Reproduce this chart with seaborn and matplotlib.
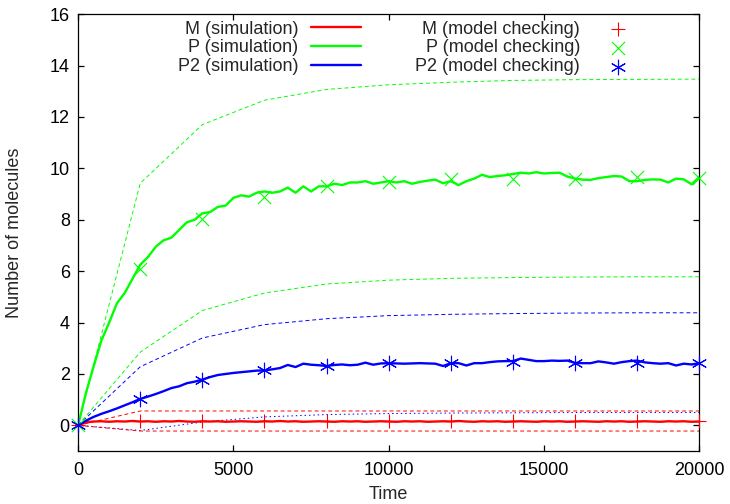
import numpy as np
import pandas as pd
import matplotlib
matplotlib.use("Agg")
import matplotlib.pyplot as plt
import seaborn as sns

# ============================================================
# DATA
# ============================================================

# simulation time axis (step 250)
sim_time = list(range(0, 20001, 250))

m_sim = [0.0, 0.12, 0.15, 0.16, 0.14, 0.16, 0.15, 0.17, 0.15, 0.16,
         0.14, 0.16, 0.15, 0.17, 0.15, 0.14, 0.16, 0.15, 0.16, 0.14,
         0.15, 0.16, 0.15, 0.14, 0.16, 0.15, 0.17, 0.15, 0.16, 0.14,
         0.15, 0.16, 0.15, 0.14, 0.16, 0.15, 0.16, 0.14, 0.15, 0.16,
         0.15, 0.14, 0.16, 0.15, 0.16, 0.14, 0.15, 0.16, 0.15, 0.17,
         0.15, 0.14, 0.16, 0.15, 0.16, 0.14, 0.15, 0.16, 0.15, 0.14,
         0.16, 0.15, 0.16, 0.14, 0.15, 0.16, 0.15, 0.14, 0.16, 0.15,
         0.16, 0.14, 0.15, 0.16, 0.15, 0.14, 0.16, 0.15, 0.16, 0.14,
         0.15]

p_sim = [0.0, 1.25, 2.3, 3.3, 4.0, 4.75, 5.15, 5.7, 6.25, 6.55,
         6.95, 7.2, 7.3, 7.6, 7.9, 8.0, 8.25, 8.3, 8.5, 8.55,
         8.85, 8.95, 8.9, 9.05, 9.1, 9.05, 9.1, 9.25, 9.05, 9.3,
         9.1, 9.3, 9.3, 9.4, 9.35, 9.45, 9.45, 9.5, 9.4, 9.45,
         9.5, 9.45, 9.5, 9.4, 9.47, 9.52, 9.56, 9.42, 9.5, 9.35,
         9.5, 9.6, 9.75, 9.66, 9.7, 9.73, 9.78, 9.83, 9.8, 9.85,
         9.8, 9.82, 9.83, 9.68, 9.6, 9.56, 9.55, 9.62, 9.66, 9.7,
         9.68, 9.5, 9.5, 9.55, 9.57, 9.56, 9.45, 9.6, 9.57, 9.38,
         9.66]

p2_sim = [0.0, 0.18, 0.33, 0.45, 0.55, 0.66, 0.78, 0.9, 1.03, 1.12,
          1.22, 1.33, 1.45, 1.52, 1.64, 1.7, 1.78, 1.88, 1.96, 2.0,
          2.04, 2.07, 2.1, 2.13, 2.14, 2.18, 2.23, 2.35, 2.27, 2.4,
          2.36, 2.34, 2.31, 2.35, 2.37, 2.34, 2.36, 2.44, 2.36, 2.41,
          2.42, 2.41, 2.4, 2.41, 2.42, 2.41, 2.4, 2.31, 2.42, 2.42,
          2.33, 2.42, 2.42, 2.46, 2.49, 2.5, 2.5, 2.6, 2.55, 2.5,
          2.5, 2.52, 2.51, 2.52, 2.43, 2.42, 2.42, 2.49, 2.45, 2.4,
          2.46, 2.5, 2.52, 2.45, 2.42, 2.4, 2.42, 2.33, 2.4, 2.37,
          2.42]

# model checking time axis (step 2000)
mc_time = list(range(0, 20001, 2000))

m_mc = [0.0, 0.17, 0.17, 0.17, 0.17, 0.17, 0.17, 0.17, 0.17, 0.17, 0.17]
p_mc = [0.0, 6.1, 8.04, 8.88, 9.31, 9.45, 9.6, 9.6, 9.6, 9.66, 9.64]
p2_mc = [0.0, 1.04, 1.78, 2.14, 2.31, 2.43, 2.42, 2.45, 2.44, 2.44, 2.42]

# bounds from model checking
m_upper = [0.0, 0.56, 0.56, 0.56, 0.56, 0.56, 0.56, 0.56, 0.56, 0.56, 0.56]
m_lower = [0.0, -0.22, -0.22, -0.22, -0.22, -0.22, -0.22, -0.22, -0.22, -0.22, -0.22]
p_upper = [0.0, 9.42, 11.7, 12.65, 13.07, 13.25, 13.35, 13.42, 13.45, 13.46, 13.47]
p_lower = [0.0, 2.85, 4.47, 5.15, 5.5, 5.65, 5.72, 5.75, 5.77, 5.78, 5.78]
p2_upper = [0.0, 2.28, 3.4, 3.92, 4.15, 4.27, 4.32, 4.35, 4.37, 4.38, 4.38]
p2_lower = [0.0, -0.2, 0.13, 0.33, 0.42, 0.46, 0.48, 0.49, 0.5, 0.5, 0.5]

RED = "#ff0000"
GREEN = "#00ff00"
BLUE = "#0000ff"

# ============================================================
# STYLE
# ============================================================

sns.set_style("ticks")
plt.rcParams["font.family"] = ["Liberation Sans", "DejaVu Sans"]
plt.rcParams["font.size"] = 13
plt.rcParams["axes.linewidth"] = 0.9
plt.rcParams["xtick.direction"] = "in"
plt.rcParams["ytick.direction"] = "in"
plt.rcParams["xtick.major.size"] = 4.5
plt.rcParams["ytick.major.size"] = 4.5
plt.rcParams["xtick.color"] = "black"
plt.rcParams["ytick.color"] = "black"
plt.rcParams["axes.edgecolor"] = "black"

fig = plt.figure(figsize=(7.3, 5.04), dpi=100)
ax = fig.add_axes([0.107, 0.105, 0.851, 0.867])

# ============================================================
# CRTANJE
# ============================================================

sim = pd.DataFrame({"t": sim_time, "M": m_sim, "P": p_sim, "P2": p2_sim})
mc = pd.DataFrame({"t": mc_time, "M": m_mc, "P": p_mc, "P2": p2_mc,
                   "M_up": m_upper, "M_lo": m_lower,
                   "P_up": p_upper, "P_lo": p_lower,
                   "P2_up": p2_upper, "P2_lo": p2_lower})

# bounds (thin dashed)
for col, c, ls in [("P_up", GREEN, (4, 3)), ("P_lo", GREEN, (4, 3)),
                   ("P2_up", BLUE, (4, 3)), ("P2_lo", BLUE, (1.5, 3)),
                   ("M_up", RED, (4, 3)), ("M_lo", RED, (4, 3))]:
    sns.lineplot(data=mc, x="t", y=col, color=c, lw=0.7, ax=ax,
                 dashes=False, legend=False).lines[-1].set_dashes(ls)

# simulation lines
h_m = sns.lineplot(data=sim, x="t", y="M", color=RED, lw=1.7, ax=ax,
                   label="M (simulation)").lines[-1]
h_p = sns.lineplot(data=sim, x="t", y="P", color=GREEN, lw=1.7, ax=ax,
                   label="P (simulation)").lines[-1]
h_p2 = sns.lineplot(data=sim, x="t", y="P2", color=BLUE, lw=1.7, ax=ax,
                    label="P2 (simulation)").lines[-1]

# model checking points
asterisk = (6, 2, 0)
sc_m = sns.scatterplot(data=mc, x="t", y="M", marker="+", color=RED, s=110,
                       linewidth=0.8, ax=ax, label="M (model checking)",
                       clip_on=False, zorder=5).collections[-1]
sc_p = sns.scatterplot(data=mc, x="t", y="P", marker="x", color=GREEN, s=90,
                       linewidth=0.8, ax=ax, label="P (model checking)",
                       clip_on=False, zorder=5).collections[-1]
sc_p2 = sns.scatterplot(data=mc, x="t", y="P2", marker=asterisk, color=BLUE,
                        s=110, linewidth=0.8, ax=ax, label="P2 (model checking)",
                        clip_on=False, zorder=5).collections[-1]

ax.set_xlim(0, 20000)
ax.set_ylim(-1, 16)
ax.set_xticks([0, 5000, 10000, 15000, 20000])
ax.set_yticks(list(range(0, 17, 2)))
ax.tick_params(top=True, right=True, width=0.9)
ax.tick_params(axis="x", pad=8)
ax.tick_params(axis="y", pad=6)
ax.set_xlabel("Time", labelpad=5)
ax.set_ylabel("Number of molecules", labelpad=19)
for s in ax.spines.values():
    s.set_visible(True)

ax.legend([h_m, h_p, h_p2, sc_m, sc_p, sc_p2],
          ["M (simulation)", "P (simulation)", "P2 (simulation)",
           "M (model checking)", "P (model checking)", "P2 (model checking)"],
          ncol=2, markerfirst=False, frameon=False, loc="upper right",
          bbox_to_anchor=(0.91, 0.985), borderaxespad=0, borderpad=0,
          handlelength=2.8, handletextpad=0.7, columnspacing=3.0,
          labelspacing=0.1, scatterpoints=1)

plt.savefig("out.png", dpi=100)
